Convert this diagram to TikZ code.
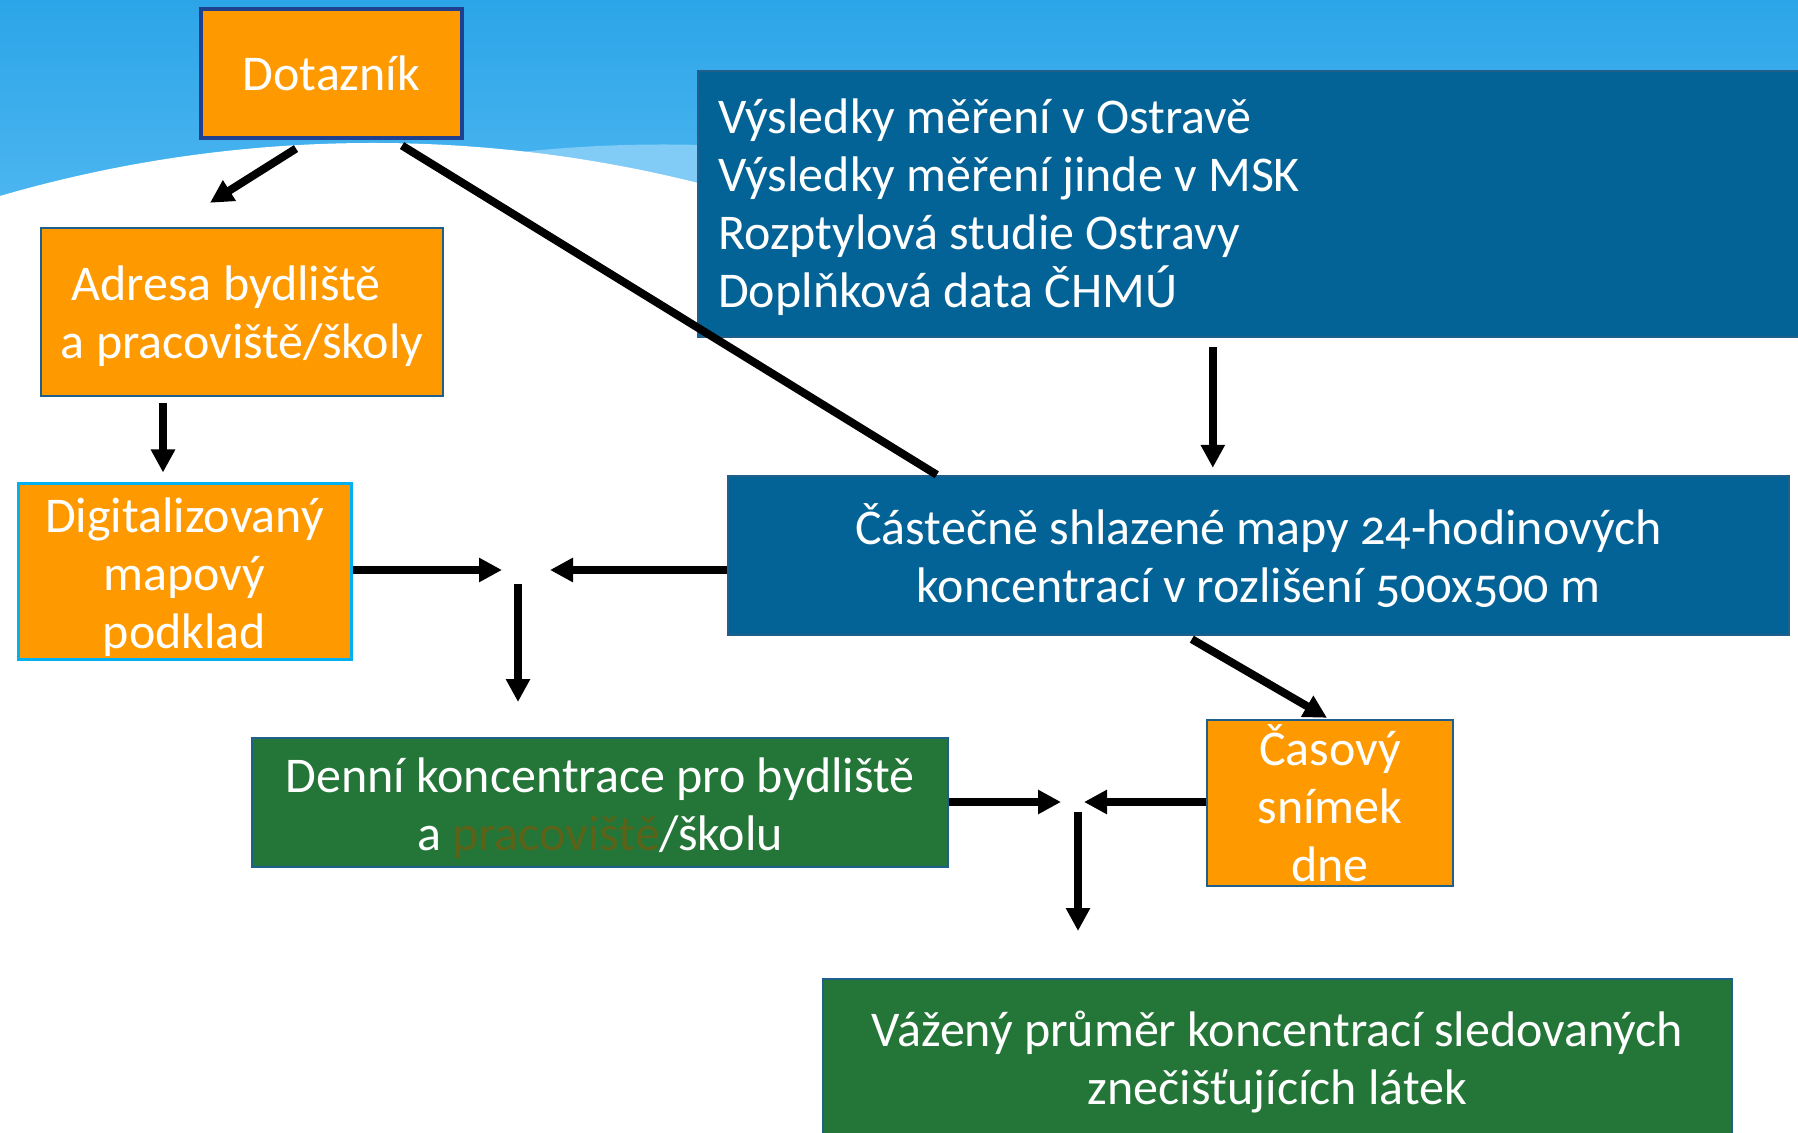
\documentclass[tikz,border=0pt]{standalone}
\usepackage{fontspec}
\setmainfont{Carlito}[Numbers=OldStyle]
\usetikzlibrary{arrows.meta,calc}
\definecolor{skytop}{RGB}{44,165,232}
\definecolor{skybot}{RGB}{96,192,245}
\definecolor{bandcol}{RGB}{128,204,247}
\definecolor{orng}{RGB}{255,153,0}
\definecolor{dblue}{RGB}{3,99,150}
\definecolor{grn}{RGB}{36,117,56}
\definecolor{edgeblue}{RGB}{31,95,139}
\definecolor{cyanedge}{RGB}{0,176,240}
\definecolor{olivetxt}{RGB}{92,98,24}
\definecolor{navyedge}{RGB}{31,63,143}
\begin{document}
\begin{tikzpicture}[x=0.5pt,y=-0.5pt,
 txt/.style={text=white, align=center, inner sep=0pt, font=\fontsize{25}{29}\selectfont},
 box/.style={txt, draw=edgeblue, line width=1.2pt},
 obox/.style={box, fill=orng},
 bbox/.style={box, fill=dblue},
 gbox/.style={box, fill=grn},
 arr/.style={line width=4pt, -{Triangle[length=11.5pt,width=11.5pt]}},
 conn/.style={line width=4pt}]
\useasboundingbox (0,0) rectangle (1798,1133);
% background
\shade[top color=skytop, bottom color=skybot] (0,0) rectangle (1798,335);
\begin{scope}
  \clip (663,1474.5) circle[radius=1330];
  \fill[bandcol] (0,0) rectangle (1798,335);
\end{scope}
\fill[white] (373,1473) circle[radius=1330];

% boxes
\node[obox, draw=navyedge, line width=1.6pt, minimum width=130.5pt, minimum height=64.5pt] (dot) at (331.5,73.5) {Dotazník};
\node[obox, minimum width=201pt, minimum height=84pt] (adr) at (242,312) {};
\node[txt] (adrt) at ($(adr)+(0,4)$) {Adresa bydliště\hspace*{16pt}\\a pracoviště/školy};
\node[obox, draw=cyanedge, line width=1.5pt, minimum width=166.5pt, minimum height=87.5pt] (dig) at (184.5,571.5) {};
\node[txt] (digt) at ($(dig)+(0,6)$) {Digitalizovaný\\mapový\\podklad};
\node[bbox, minimum width=556pt, minimum height=133pt] (src) at (1254,204) {};
\node[txt, align=left, anchor=west] (srct) at ($(src.west)+(21,3.5)$) {Výsledky měření v Ostravě\\Výsledky měření jinde v MSK\\Rozptylová studie Ostravy\\Doplňková data ČHMÚ};
\node[bbox, minimum width=530.5pt, minimum height=79.5pt] (cas) at (1258.5,555.5) {Částečně shlazené mapy 24-hodinových\\koncentrací v rozlišení 500x500 m};
\node[obox, minimum width=123pt, minimum height=83pt] (tim) at (1330,803) {Časový\\snímek\\dne};
\node[gbox, minimum width=348pt, minimum height=64.5pt] (den) at (600,802.5) {};
\node[txt] (dent) at ($(den)+(0,6)$) {Denní koncentrace pro bydliště\\a \textcolor{olivetxt}{pracoviště}/školu};
\node[gbox, minimum width=454.5pt, minimum height=83pt] (vaz) at (1277.5,1062) {Vážený průměr koncentrací sledovaných\\znečišťujících látek};

% junction points
\coordinate (j1) at (518,570);
\coordinate (j2) at (1078,802);

% connectors
\draw[arr] ($(dot.south)+(-35.5,9)$) -- ($(adr.north)+(-32,-24)$);
\draw[conn] ($(dot.south)+(70.5,6)$) -- ($(cas.north west)+(210,0)$);
\draw[arr] ($(adr.south)+(-79,6)$) -- ($(dig.north)+(-21.5,-10)$);
\draw[arr] (dig.east |- j1) -- ($(j1)+(-16,0)$);
\draw[arr] (cas.west |- j1) -- ($(j1)+(32,0)$);
\draw[arr] ($(j1)+(0,14)$) -- ($(j1)+(0,132)$);
\draw[arr] ($(src.south west)+(516,9)$) -- ($(cas.north west)+(486,-7)$);
\draw[arr] ($(cas.south west)+(465,3)$) -- ($(tim.north)+(-3,-1)$);
\draw[arr] (den.east |- j2) -- ($(j2)+(-17,0)$);
\draw[arr] (tim.west |- j2) -- ($(j2)+(6,0)$);
\draw[arr] ($(j2)+(0,10)$) -- ($(j2)+(0,129)$);
\end{tikzpicture}
\end{document}
